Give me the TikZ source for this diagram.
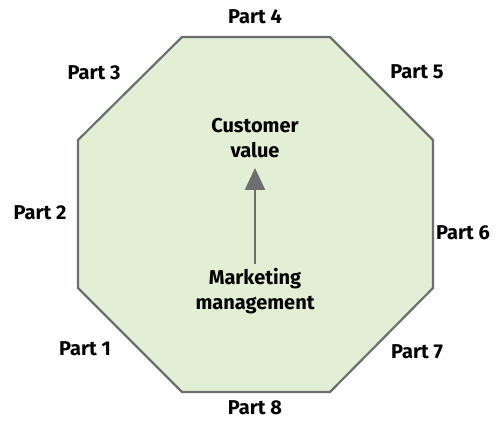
\documentclass[tikz,border=0pt]{standalone}
\usepackage{fontspec}
\setmainfont{Fira Sans}
\usetikzlibrary{arrows.meta}
\definecolor{octFill}{HTML}{E2EFD5}
\definecolor{octLine}{HTML}{6D6E70}
\begin{document}
\begin{tikzpicture}[x=1pt,y=-1pt,
  partLabel/.style={font=\fontsize{20}{22}\selectfont\bfseries, inner sep=0pt},
  centreLabel/.style={font=\fontsize{20}{25}\selectfont\bfseries, align=center, inner sep=0pt},
  flowArrow/.style={draw=octLine, line width=2.2pt, -{Triangle[length=22pt,width=20pt]}}
]
\useasboundingbox (0,0) rectangle (498,421);
\draw[fill=octFill, draw=octLine, line width=2.2pt, line join=miter]
  (182,37) -- (330,37) -- (433,140) -- (433,288) -- (330,392) -- (182,392) -- (78,288) -- (78,140) -- cycle;
\node[partLabel] (p4) at (255,17){Part 4};
\node[partLabel] (p3) at (94,73){Part 3};
\node[partLabel] (p5) at (417,72){Part 5};
\node[partLabel] (p2) at (40,213){Part 2};
\node[partLabel] (p6) at (463,233){Part 6};
\node[partLabel] (p1) at (85,349){Part 1};
\node[partLabel] (p7) at (417,352){Part 7};
\node[partLabel] (p8) at (255,408){Part 8};
\node[centreLabel] (cv) at (255,138){Customer\\value};
\node[centreLabel] (mm) at (255,291){Marketing\\management};
\draw[flowArrow, shorten >=10pt, shorten <=4pt] (mm.north) -- (cv.south);
\end{tikzpicture}
\end{document}
